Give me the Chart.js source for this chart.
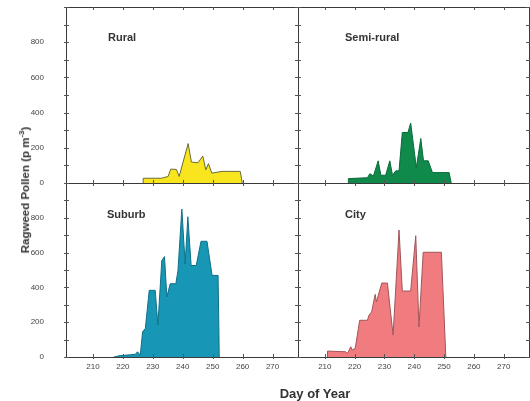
<!DOCTYPE html>
<html>
<head>
<meta charset="utf-8">
<script src="https://cdn.jsdelivr.net/npm/chart.js@4.4.1/dist/chart.umd.min.js"></script>
<style>
  html, body { margin: 0; padding: 0; background: #fff; }
  #wrap { position: relative; width: 530px; height: 401px; overflow: hidden; font-family: "Liberation Sans", Arial, sans-serif; }
  #wrap canvas { position: absolute; left: 0; top: 0; }
  .lbl { position: absolute; font-weight: bold; font-size: 11px; color: #333; line-height: 1; white-space: nowrap; }
  #xtitle { position: absolute; left: 0; width: 630px; top: 386px; text-align: center; font-weight: bold; font-size: 13px; color: #333; }
  #ytitle { position: absolute; left: 24px; top: 190px; transform: translate(-50%, -50%) rotate(-90deg); font-weight: bold; font-size: 11.5px; color: #333; white-space: nowrap; }
  #ytitle sup { font-size: 8px; }
</style>
</head>
<body>
<div id="wrap">
  <canvas id="c1" width="530" height="401"></canvas>
  <canvas id="c2" width="530" height="401"></canvas>
  <canvas id="c3" width="530" height="401"></canvas>
  <canvas id="c4" width="530" height="401"></canvas>
  <div class="lbl" style="left:108px; top:32px;">Rural</div>
  <div class="lbl" style="left:345px; top:32px;">Semi-rural</div>
  <div class="lbl" style="left:107px; top:209px;">Suburb</div>
  <div class="lbl" style="left:345px; top:209px;">City</div>
  <div id="xtitle">Day of Year</div>
  <div id="ytitle">Ragweed Pollen (p m<sup>-3</sup>)</div>
</div>
<script>
// ---- data (day of year, pollen in p m^-3) ----
const ruralDays   = [226.8, 226.8, 232.9, 235.1, 236.0, 237.9, 238.8, 241.8, 242.9, 245.1, 246.7, 247.7, 248.6, 249.7, 253.1, 259.2, 259.9];
const ruralPollen = [0, 27, 27, 37, 79, 77, 37, 224, 119, 115, 153, 75, 110, 56, 66, 66, 0];

const semiDays   = [217.9, 217.9, 224.3, 225.1, 226.3, 227.9, 228.8, 230.4, 231.8, 232.7, 233.8, 234.9, 236.0, 237.9, 238.8, 240.7, 242.2, 243.1, 244.7, 246.1, 251.7, 252.4];
const semiPollen = [0, 25, 30, 53, 40, 126, 44, 44, 126, 44, 69, 69, 287, 287, 341, 88, 253, 126, 126, 59, 59, 0];

const suburbDays   = [217.0, 219.1, 224.1, 224.9, 225.8, 226.6, 227.5, 228.8, 230.8, 231.7, 233.0, 233.9, 234.7, 235.8, 237.7, 238.4, 239.7, 240.8, 241.7, 242.8, 244.5, 246.1, 248.1, 249.8, 251.8, 252.2];
const suburbPollen = [0, 8, 15, 30, 10, 145, 164, 383, 383, 183, 554, 577, 345, 421, 421, 497, 850, 535, 806, 526, 526, 665, 665, 469, 469, 0];

const cityDays   = [210.9, 210.9, 217.0, 217.6, 218.7, 219.2, 220.2, 221.7, 224.3, 224.8, 225.7, 226.9, 227.3, 229.1, 231.0, 232.9, 234.9, 236.0, 238.8, 240.5, 241.6, 243.0, 249.1, 250.6];
const cityPollen = [0, 34, 30, 20, 59, 40, 50, 211, 211, 240, 259, 360, 316, 425, 425, 126, 730, 379, 379, 697, 173, 602, 602, 0];

const xTickLabels = [210, 220, 230, 240, 250, 260, 270];
const yTickLabels = [0, 200, 400, 600, 800];

const FONT = "'Liberation Sans', Arial, sans-serif";

function pts(days, vals) { return days.map((d, i) => ({ x: d, y: vals[i] })); }

const framePlugin = {
  id: 'frame',
  afterDraw(chart) {
    const ctx = chart.ctx;
    const a = chart.chartArea;
    ctx.save();
    ctx.strokeStyle = '#3a3a3a';
    ctx.lineWidth = 1;
    ctx.strokeRect(Math.round(a.left) + 0.5, Math.round(a.top) + 0.5, Math.round(a.right - a.left), Math.round(a.bottom - a.top));
    ctx.strokeStyle = '#555';
    const xs = chart.scales.x, ys = chart.scales.y;
    ctx.beginPath();
    xs.ticks.forEach(t => {
      const px = Math.round(xs.getPixelForValue(t.value)) + 0.5;
      ctx.moveTo(px, a.top); ctx.lineTo(px, a.top + 3);
      ctx.moveTo(px, a.bottom - 3); ctx.lineTo(px, a.bottom + 2);
    });
    ys.ticks.forEach(t => {
      const py = Math.round(ys.getPixelForValue(t.value)) + 0.5;
      ctx.moveTo(a.left - 2, py); ctx.lineTo(a.left + 3, py);
      ctx.moveTo(a.right - 3, py); ctx.lineTo(a.right + 2, py);
    });
    ctx.stroke();
    ctx.restore();
  }
};

function zeroPad(s) { s.paddingTop = 0; s.paddingBottom = 0; s.paddingLeft = 0; s.paddingRight = 0; }

function makeChart(id, days, vals, fillColor, lineColor, pad, showX, showY) {
  return new Chart(document.getElementById(id), {
    type: 'line',
    data: {
      datasets: [{
        data: pts(days, vals),
        backgroundColor: fillColor,
        borderColor: lineColor,
        borderWidth: 1,
        fill: 'origin',
        tension: 0,
        pointRadius: 0
      }]
    },
    options: {
      responsive: false,
      devicePixelRatio: 1,
      animation: false,
      events: [],
      layout: { padding: pad, autoPadding: false },
      plugins: { legend: { display: false }, tooltip: { enabled: false } },
      scales: {
        x: {
          type: 'linear', min: 201, max: 278.5,
          grid: { display: false }, border: { display: false },
          ticks: {
            display: showX, stepSize: 10, includeBounds: false, autoSkip: false, maxRotation: 0,
            padding: -3, color: '#444', font: { family: FONT, size: 8 },
            callback: v => xTickLabels.includes(v) ? String(v) : ''
          },
          afterFit: s => { s.height = 20; zeroPad(s); }
        },
        y: {
          type: 'linear', min: 0, max: 1000,
          grid: { display: false }, border: { display: false },
          ticks: {
            display: showY, stepSize: 100, autoSkip: false,
            padding: 14, color: '#444', font: { family: FONT, size: 8 },
            callback: v => yTickLabels.includes(v) ? String(v) : ''
          },
          afterFit: s => { s.width = 40; zeroPad(s); }
        }
      }
    },
    plugins: [framePlugin]
  });
}

makeChart('c1', ruralDays, ruralPollen, '#f8e51e', '#6b6b3a', { left: 26, right: 232, top: 7, bottom: 198 }, false, true);
makeChart('c2', semiDays, semiPollen, '#0f8a4b', '#0b6a3a', { left: 258, right: 1, top: 7, bottom: 198 }, false, false);
makeChart('c3', suburbDays, suburbPollen, '#1797b5', '#0f6f86', { left: 26, right: 232, top: 183, bottom: 24 }, true, true);
makeChart('c4', cityDays, cityPollen, '#f07c80', '#a05558', { left: 258, right: 1, top: 183, bottom: 24 }, true, false);
</script>
</body>
</html>
